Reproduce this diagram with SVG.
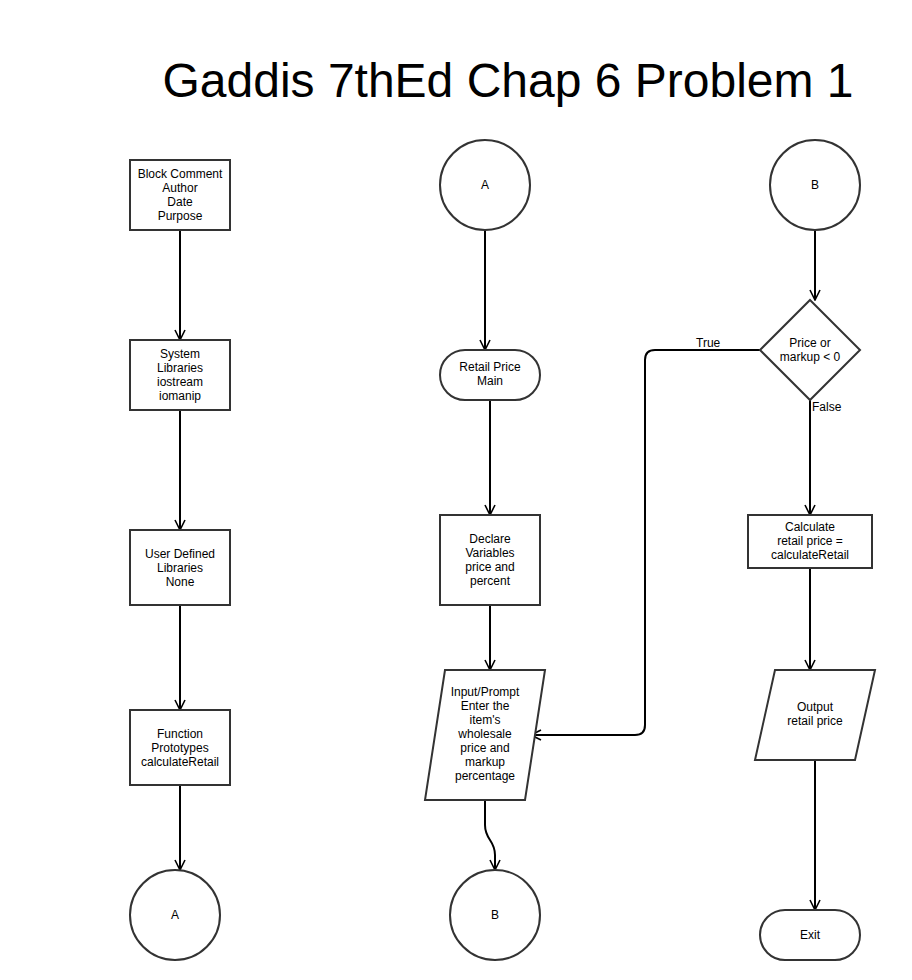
<svg xmlns="http://www.w3.org/2000/svg" width="912" height="980" viewBox="0 0 912 980">
<defs>
<marker id="arr" viewBox="0 0 12 12" refX="11" refY="6" markerWidth="12" markerHeight="12" markerUnits="userSpaceOnUse" orient="auto">
<path d="M1,1 L11,6 L1,11" fill="none" stroke="#000" stroke-width="1.6"/>
</marker>
<style>
.s{fill:#fff;stroke:#333;stroke-width:2}
.t{font-family:"Liberation Sans",Arial,sans-serif;font-size:12px;fill:#000;text-anchor:middle}
.c{fill:none;stroke:#000;stroke-width:2;marker-end:url(#arr)}
.l{font-family:"Liberation Sans",Arial,sans-serif;font-size:12px;fill:#000}
</style>
</defs>
<rect width="912" height="980" fill="#fff"/>
<text x="508" y="97" style="font-family:'Liberation Sans',Arial,sans-serif;font-size:48px;text-anchor:middle">Gaddis 7thEd Chap 6 Problem 1</text>
<g id="connectors">
<path class="c" d="M180,230 L180,340"/>
<path class="c" d="M180,410 L180,530"/>
<path class="c" d="M180,605 L180,710"/>
<path class="c" d="M180,785 L180,870"/>
<path class="c" d="M485,230 L485,350"/>
<path class="c" d="M490,400 L490,515"/>
<path class="c" d="M490,605 L490,670"/>
<path class="c" d="M485,800 L485,825 C485,840 495,840 495,855 L495,870"/>
<path class="c" d="M815,230 L815,300"/>
<path class="c" d="M760,350 L655,350 Q645,350 645,360 L645,725 Q645,735 635,735 L531,735"/>
<path class="c" d="M810,400 L810,515"/>
<path class="c" d="M810,568 L810,670"/>
<path class="c" d="M815,760 L815,910"/>
<text class="l" x="696" y="347">True</text>
<text class="l" x="812" y="411">False</text>
</g>
<g id="block-comment">
<rect class="s" x="130" y="160" width="100" height="70"/>
<text class="t" x="180" y="178">Block Comment<tspan x="180" dy="14">Author</tspan><tspan x="180" dy="14">Date</tspan><tspan x="180" dy="14">Purpose</tspan></text>
</g>
<g id="system-libraries">
<rect class="s" x="130" y="340" width="100" height="70"/>
<text class="t" x="180" y="358">System<tspan x="180" dy="14">Libraries</tspan><tspan x="180" dy="14">iostream</tspan><tspan x="180" dy="14">iomanip</tspan></text>
</g>
<g id="user-defined">
<rect class="s" x="130" y="530" width="100" height="75"/>
<text class="t" x="180" y="558">User Defined<tspan x="180" dy="14">Libraries</tspan><tspan x="180" dy="14">None</tspan></text>
</g>
<g id="function-prototypes">
<rect class="s" x="130" y="710" width="100" height="75"/>
<text class="t" x="180" y="738">Function<tspan x="180" dy="14">Prototypes</tspan><tspan x="180" dy="14">calculateRetail</tspan></text>
</g>
<g id="connector-a-out">
<circle class="s" cx="175" cy="915" r="45"/>
<text class="t" x="175" y="919">A</text>
</g>
<g id="connector-a-in">
<circle class="s" cx="485" cy="185" r="45"/>
<text class="t" x="485" y="189">A</text>
</g>
<g id="retail-price-main">
<rect class="s" x="440" y="350" width="100" height="50" rx="25"/>
<text class="t" x="490" y="371">Retail Price<tspan x="490" dy="14">Main</tspan></text>
</g>
<g id="declare-variables">
<rect class="s" x="440" y="515" width="100" height="90"/>
<text class="t" x="490" y="543">Declare<tspan x="490" dy="14">Variables</tspan><tspan x="490" dy="14">price and</tspan><tspan x="490" dy="14">percent</tspan></text>
</g>
<g id="input-prompt">
<polygon class="s" points="445,670 545,670 525,800 425,800"/>
<text class="t" x="485" y="696">Input/Prompt<tspan x="485" dy="14">Enter the</tspan><tspan x="485" dy="14">item's</tspan><tspan x="485" dy="14">wholesale</tspan><tspan x="485" dy="14">price and</tspan><tspan x="485" dy="14">markup</tspan><tspan x="485" dy="14">percentage</tspan></text>
</g>
<g id="connector-b-out">
<circle class="s" cx="495" cy="915" r="45"/>
<text class="t" x="495" y="919">B</text>
</g>
<g id="connector-b-in">
<circle class="s" cx="815" cy="185" r="45"/>
<text class="t" x="815" y="189">B</text>
</g>
<g id="decision">
<polygon class="s" points="810,300 860,350 810,400 760,350"/>
<text class="t" x="810" y="347">Price or<tspan x="810" dy="14">markup &lt; 0</tspan></text>
</g>
<g id="calculate">
<rect class="s" x="748" y="515" width="124" height="53"/>
<text class="t" x="810" y="531">Calculate<tspan x="810" dy="14">retail price =</tspan><tspan x="810" dy="14">calculateRetail</tspan></text>
</g>
<g id="output">
<polygon class="s" points="775,670 875,670 855,760 755,760"/>
<text class="t" x="815" y="711">Output<tspan x="815" dy="14">retail price</tspan></text>
</g>
<g id="exit">
<rect class="s" x="760" y="910" width="100" height="50" rx="25"/>
<text class="t" x="810" y="939">Exit</text>
</g>
</svg>
